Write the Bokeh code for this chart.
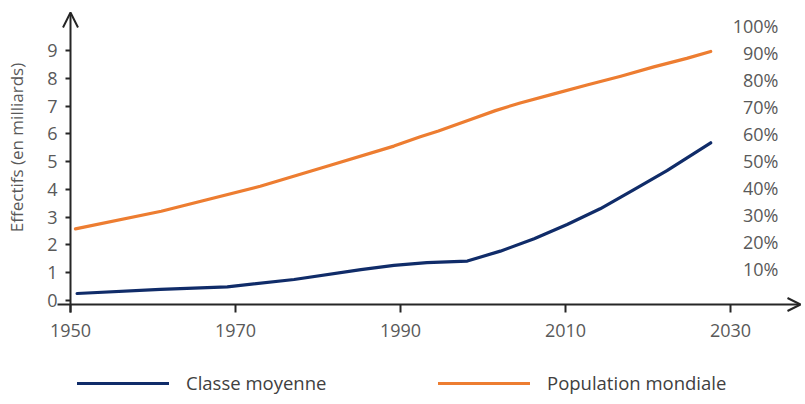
from bokeh.plotting import figure
from bokeh.models import (Range1d, LinearAxis, FixedTicker, Legend, LegendItem, Label,
                          Arrow, OpenHead, ColumnDataSource)
from bokeh.core.properties import value
from bokeh.embed import file_html
from bokeh.resources import INLINE

# ---- data ----
years_pop = [1950.6, 1961.0, 1973.0, 1981.1, 1989.2, 1992.4, 1994.6, 1998.5, 2001.5,
             2004.5, 2008.6, 2012.6, 2016.7, 2020.7, 2024.7, 2027.6]
pop_mondiale = [2.75, 3.39, 4.30, 5.03, 5.76, 6.10, 6.31, 6.73, 7.05,
                7.33, 7.66, 7.98, 8.30, 8.64, 8.95, 9.20]

years_mid = [1950.8, 1960.9, 1969.0, 1977.1, 1985.2, 1989.2, 1993.2, 1998.1, 2002.1,
             2006.2, 2010.2, 2014.2, 2018.3, 2022.3, 2027.6]
classe_moyenne = [0.40, 0.55, 0.64, 0.91, 1.27, 1.42, 1.52, 1.58, 1.94,
                  2.39, 2.91, 3.48, 4.18, 4.87, 5.88]

x_ticks = [1950, 1970, 1990, 2010, 2030]
y_ticks = [0, 1, 2, 3, 4, 5, 6, 7, 8, 9]
pct_ticks = [10, 20, 30, 40, 50, 60, 70, 80, 90, 100]
pct_labels = ["10%", "20%", "30%", "40%", "50%", "60%", "70%", "80%", "90%", "100%"]
series_names = ["Classe moyenne", "Population mondiale"]
y_title = "Effectifs (en milliards)"

# ---- layout (pixels) ----
W, H = 805, 404
X_ORIGIN_PX = 70          # where 1950 sits
Y_ORIGIN_PX = 304         # where 0 sits
PX_PER_YEAR = 8.25
PX_PER_UNIT = 27.5

def xdata(px):
    return 1950 + (px - X_ORIGIN_PX) / PX_PER_YEAR

def ydata(py):
    return (Y_ORIGIN_PX - py) / PX_PER_UNIT

FONT = "Open Sans"
TXT = "#595959"
AX = "#262626"
BLUE = "#102c69"
ORANGE = "#ed7d31"

p = figure(width=W, height=H, output_backend="svg", toolbar_location=None,
           x_range=Range1d(xdata(0), xdata(W)), y_range=Range1d(ydata(H), ydata(0)),
           y_axis_location=None, x_axis_location="below")
p.min_border = 0
p.outline_line_color = None
p.grid.visible = False
p.background_fill_color = "white"
p.border_fill_color = "white"

# label ranges: in the reference the tick labels sit a little above their levels
lbl_zero_px, lbl_px = 300, 27.78
pct10_px, pct_px = 268, 2.7
p.extra_y_ranges = {
    "lbl": Range1d(-(H - lbl_zero_px) / lbl_px, lbl_zero_px / lbl_px),
    "pct": Range1d(10 - (H - pct10_px) / pct_px, 10 + pct10_px / pct_px),
}

# x axis, fixed at y = 0 (its line is drawn by the arrow)
xa = p.xaxis[0]
xa.fixed_location = 0
xa.ticker = FixedTicker(ticks=x_ticks)
xa.axis_line_color = None
xa.major_tick_line_color = AX
xa.major_tick_line_width = 2
xa.major_tick_out = 8
xa.major_tick_in = 0
xa.minor_tick_line_color = None
xa.major_label_standoff = 11
xa.major_label_text_font = FONT
xa.major_label_text_font_size = "18px"
xa.major_label_text_color = TXT

# y axis, fixed at x = 1950
ya = LinearAxis(y_range_name="lbl", ticker=FixedTicker(ticks=y_ticks), fixed_location=1950)
ya.axis_line_color = None
ya.major_tick_line_color = AX
ya.major_tick_line_width = 2
ya.major_tick_out = 5
ya.major_tick_in = 0
ya.minor_tick_line_color = None
ya.major_label_standoff = 8
ya.major_label_text_font = FONT
ya.major_label_text_font_size = "18px"
ya.major_label_text_color = TXT
p.add_layout(ya, "left")

# axis lines with arrow heads
p.add_layout(Arrow(end=OpenHead(size=13, line_width=2, line_color=AX),
                   x_start=xdata(57), y_start=0, x_end=xdata(800), y_end=0,
                   line_width=2, line_color=AX))
p.add_layout(Arrow(end=OpenHead(size=15, line_width=2, line_color=AX),
                   x_start=1950, y_start=ydata(312), x_end=1950, y_end=ydata(12),
                   line_width=2, line_color=AX))

# series
r_mid = p.line(years_mid, classe_moyenne, line_width=3.2, line_color=BLUE,
               line_cap="round", line_join="round")
r_pop = p.line(years_pop, pop_mondiale, line_width=3.2, line_color=ORANGE,
               line_cap="round", line_join="round")

# percentage scale on the right (text only)
pct_src = ColumnDataSource(dict(x=[xdata(778)] * len(pct_ticks), y=pct_ticks, t=pct_labels))
p.text(x="x", y="y", text="t", source=pct_src, y_range_name="pct",
       text_align="right", text_baseline="middle",
       text_font=value(FONT), text_font_size=value("18px"), text_color=TXT)

# y title
p.add_layout(Label(x=15.5, y=H - 147, x_units="screen", y_units="screen",
                   text=y_title, angle=90, angle_units="deg",
                   text_align="center", text_baseline="middle",
                   text_font=FONT, text_font_size="17px", text_color=TXT))

# legend entries under the axis
def add_legend(name, rend, left_px):
    lg = Legend(items=[LegendItem(label=name, renderers=[rend])],
                location=(left_px, 9), orientation="horizontal",
                glyph_width=92, glyph_height=20, label_standoff=17,
                padding=0, margin=0, spacing=0,
                border_line_color=None, background_fill_alpha=0,
                label_text_font=FONT, label_text_font_size="18.5px",
                label_text_color="#404040")
    p.add_layout(lg, "center")

add_legend(series_names[0], r_mid, 77)
add_legend(series_names[1], r_pop, 438)

open("out.html", "w").write(file_html(p, INLINE))
